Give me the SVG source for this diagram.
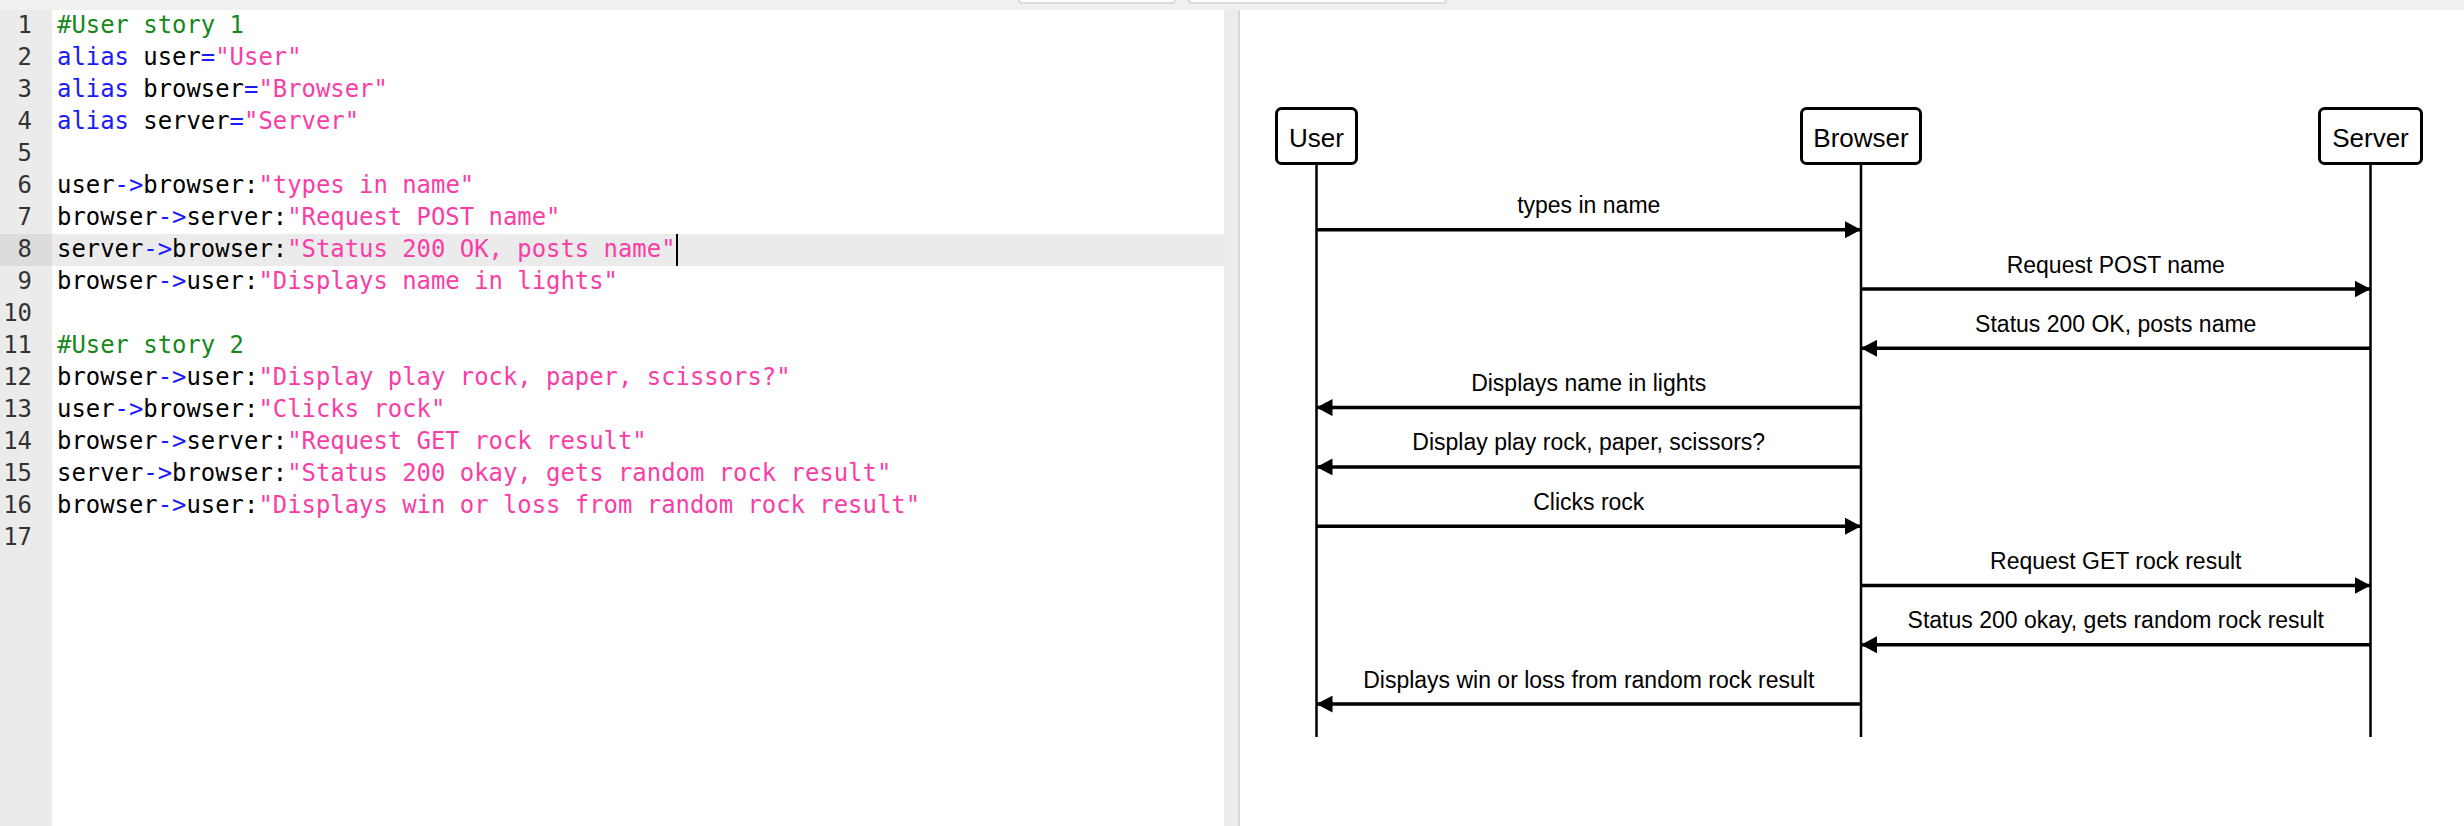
<svg xmlns="http://www.w3.org/2000/svg" width="2464" height="826" viewBox="0 0 2464 826">
<style>
.code{font-family:"DejaVu Sans Mono","Liberation Mono",monospace;font-size:23.9px;white-space:pre;fill:#000}
.ln{font-family:"DejaVu Sans Mono","Liberation Mono",monospace;font-size:23.9px;fill:#333;text-anchor:end}
.c{fill:#16881a}.k{fill:#1a1aff}.s{fill:#f83ea6}
.box{fill:#fff;stroke:#000;stroke-width:3}
.bt{font-family:"Liberation Sans",Arial,sans-serif;font-size:26px;text-anchor:middle;fill:#000}
.life{stroke:#000;stroke-width:2.5}
.msg{stroke:#000;stroke-width:3.5;fill:none;marker-end:url(#ah)}
.lbl{font-family:"Liberation Sans",Arial,sans-serif;font-size:23px;text-anchor:middle;fill:#000}
</style>
<defs>
<marker id="ah" markerUnits="userSpaceOnUse" markerWidth="16" markerHeight="17" refX="16" refY="8.5" orient="auto">
<path d="M0,0 L16,8.5 L0,17 z" fill="#000"/>
</marker>
</defs>
<rect x="0" y="0" width="2464" height="826" fill="#fff"/>
<rect x="0" y="0" width="2464" height="10" fill="#f0f0f0"/>
<rect x="1019" y="-10" width="156" height="13" rx="3" fill="#fff" stroke="#d4d4d4" stroke-width="1.5"/>
<rect x="1189" y="-10" width="257" height="13" rx="3" fill="#fff" stroke="#d4d4d4" stroke-width="1.5"/>
<g id="editor">
<rect x="0" y="10" width="52" height="816" fill="#ebebeb"/>
<rect x="0" y="234" width="52" height="32" fill="#dcdcdc"/>
<rect x="52" y="234" width="1172" height="32" fill="#ebebeb"/>
<rect x="1224" y="10" width="14" height="816" fill="#ececec"/>
<rect x="1238" y="10" width="2" height="816" fill="#d9d9d9"/>
<g>
<text class="ln" x="32" y="33.3">1</text>
<text class="ln" x="32" y="65.3">2</text>
<text class="ln" x="32" y="97.3">3</text>
<text class="ln" x="32" y="129.3">4</text>
<text class="ln" x="32" y="161.3">5</text>
<text class="ln" x="32" y="193.3">6</text>
<text class="ln" x="32" y="225.3">7</text>
<text class="ln" x="32" y="257.3">8</text>
<text class="ln" x="32" y="289.3">9</text>
<text class="ln" x="32" y="321.3">10</text>
<text class="ln" x="32" y="353.3">11</text>
<text class="ln" x="32" y="385.3">12</text>
<text class="ln" x="32" y="417.3">13</text>
<text class="ln" x="32" y="449.3">14</text>
<text class="ln" x="32" y="481.3">15</text>
<text class="ln" x="32" y="513.3">16</text>
<text class="ln" x="32" y="545.3">17</text>
</g>
<g>
<text class="code" x="57" y="33.3"><tspan class="c">#User story 1</tspan></text>
<text class="code" x="57" y="65.3"><tspan class="k">alias</tspan> user<tspan class="k">=</tspan><tspan class="s">"User"</tspan></text>
<text class="code" x="57" y="97.3"><tspan class="k">alias</tspan> browser<tspan class="k">=</tspan><tspan class="s">"Browser"</tspan></text>
<text class="code" x="57" y="129.3"><tspan class="k">alias</tspan> server<tspan class="k">=</tspan><tspan class="s">"Server"</tspan></text>
<text class="code" x="57" y="193.3">user<tspan class="k">-&gt;</tspan>browser:<tspan class="s">"types in name"</tspan></text>
<text class="code" x="57" y="225.3">browser<tspan class="k">-&gt;</tspan>server:<tspan class="s">"Request POST name"</tspan></text>
<text class="code" x="57" y="257.3">server<tspan class="k">-&gt;</tspan>browser:<tspan class="s">"Status 200 OK, posts name"</tspan></text>
<text class="code" x="57" y="289.3">browser<tspan class="k">-&gt;</tspan>user:<tspan class="s">"Displays name in lights"</tspan></text>
<text class="code" x="57" y="353.3"><tspan class="c">#User story 2</tspan></text>
<text class="code" x="57" y="385.3">browser<tspan class="k">-&gt;</tspan>user:<tspan class="s">"Display play rock, paper, scissors?"</tspan></text>
<text class="code" x="57" y="417.3">user<tspan class="k">-&gt;</tspan>browser:<tspan class="s">"Clicks rock"</tspan></text>
<text class="code" x="57" y="449.3">browser<tspan class="k">-&gt;</tspan>server:<tspan class="s">"Request GET rock result"</tspan></text>
<text class="code" x="57" y="481.3">server<tspan class="k">-&gt;</tspan>browser:<tspan class="s">"Status 200 okay, gets random rock result"</tspan></text>
<text class="code" x="57" y="513.3">browser<tspan class="k">-&gt;</tspan>user:<tspan class="s">"Displays win or loss from random rock result"</tspan></text>
</g>
<rect x="676" y="234" width="2" height="32" fill="#000"/>
</g>
<g id="node-user">
<line class="life" x1="1316.5" y1="164" x2="1316.5" y2="737"/>
<rect class="box" x="1276.5" y="108.5" width="80" height="55" rx="5"/>
<text class="bt" x="1316.5" y="147">User</text>
</g>
<g id="node-browser">
<line class="life" x1="1861" y1="164" x2="1861" y2="737"/>
<rect class="box" x="1801.5" y="108.5" width="119" height="55" rx="5"/>
<text class="bt" x="1861" y="147">Browser</text>
</g>
<g id="node-server">
<line class="life" x1="2370.5" y1="164" x2="2370.5" y2="737"/>
<rect class="box" x="2319.5" y="108.5" width="102" height="55" rx="5"/>
<text class="bt" x="2370.5" y="147">Server</text>
</g>
<g id="connectors">
<line class="msg" x1="1316.5" y1="229.7" x2="1861" y2="229.7"/>
<text class="lbl" x="1588.75" y="213.2">types in name</text>
<line class="msg" x1="1861" y1="289" x2="2370.5" y2="289"/>
<text class="lbl" x="2115.75" y="272.5">Request POST name</text>
<line class="msg" x1="2370.5" y1="348.3" x2="1861" y2="348.3"/>
<text class="lbl" x="2115.75" y="331.8">Status 200 OK, posts name</text>
<line class="msg" x1="1861" y1="407.6" x2="1316.5" y2="407.6"/>
<text class="lbl" x="1588.75" y="391.1">Displays name in lights</text>
<line class="msg" x1="1861" y1="466.9" x2="1316.5" y2="466.9"/>
<text class="lbl" x="1588.75" y="450.4">Display play rock, paper, scissors?</text>
<line class="msg" x1="1316.5" y1="526.2" x2="1861" y2="526.2"/>
<text class="lbl" x="1588.75" y="509.7">Clicks rock</text>
<line class="msg" x1="1861" y1="585.5" x2="2370.5" y2="585.5"/>
<text class="lbl" x="2115.75" y="569">Request GET rock result</text>
<line class="msg" x1="2370.5" y1="644.8" x2="1861" y2="644.8"/>
<text class="lbl" x="2115.75" y="628.3">Status 200 okay, gets random rock result</text>
<line class="msg" x1="1861" y1="704.1" x2="1316.5" y2="704.1"/>
<text class="lbl" x="1588.75" y="687.6">Displays win or loss from random rock result</text>
</g>
</svg>
